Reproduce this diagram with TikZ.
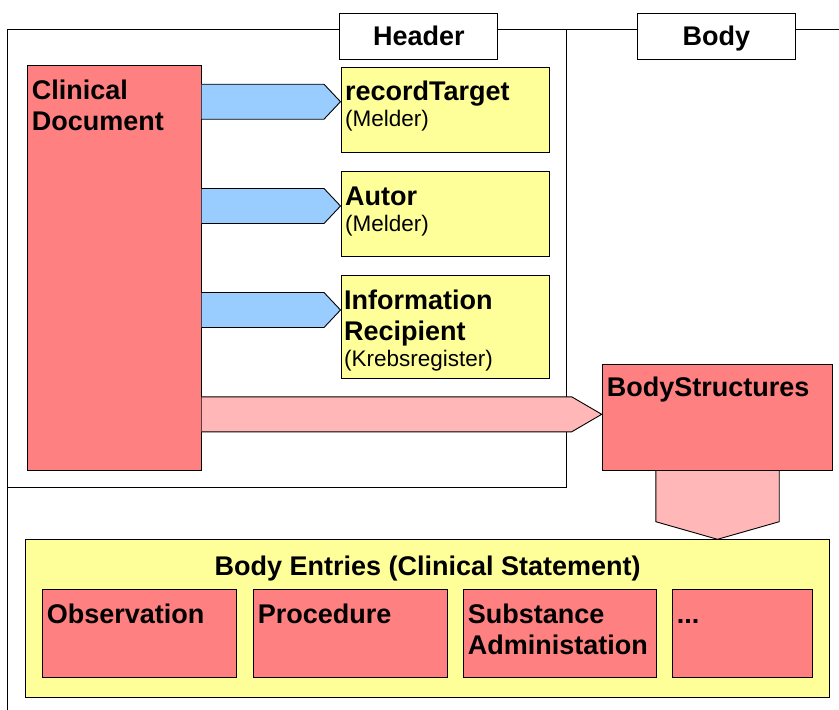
\documentclass[tikz,border=0pt]{standalone}
\usepackage{fontspec}
\setmainfont{Liberation Sans}
\usetikzlibrary{calc}
\definecolor{redc}{HTML}{FF8080}
\definecolor{yelc}{HTML}{FFFF99}
\definecolor{bluc}{HTML}{99CCFF}
\definecolor{pinkc}{HTML}{FFB7B7}
\newcommand\bft{\bfseries\fontsize{27}{31}\selectfont}
\newcommand\smt{\mdseries\fontsize{22.5}{26}\selectfont}
\tikzset{
  box/.style={draw=black, line width=1pt, inner sep=0pt, anchor=north west},
  redbox/.style={box, fill=redc},
  yelbox/.style={box, fill=yelc},
  hdrbox/.style={box, fill=white},
  txt/.style={inner sep=0pt, anchor=base west, text width=#1, align=left, font=\bft},
  txt/.default=220pt,
  frame/.style={draw=black, line width=1.2pt},
  barrow/.style={draw=black, line width=0.9pt, fill=bluc, line join=miter},
  parrow/.style={draw=black, line width=0.9pt, fill=pinkc, line join=miter},
}
\begin{document}
\begin{tikzpicture}[x=1pt,y=-1pt]
\useasboundingbox (0,0) rectangle (839,710);
% header/body tabs
\node[hdrbox, minimum width=158pt, minimum height=46.3pt] (hdr) at (339.3,12.7) {};
\node[font=\bft, inner sep=0pt, anchor=base] (hdrt) at ($(hdr.north)+(0,33)$) {Header};
\node[hdrbox, minimum width=158.3pt, minimum height=46.3pt] (bdy) at (636.7,12.7) {};
\node[font=\bft, inner sep=0pt, anchor=base] (bdyt) at ($(bdy.north)+(0,33)$) {Body};
% frame lines
\coordinate (tl) at (7.3,29.3);
\coordinate (bl) at (7.3,710);
\coordinate (hc) at (566.7,487.7);
\coordinate (tr) at (839,29.3);
\draw[frame] (bl) -- (tl) -- (hdr.west |- tl);
\draw[frame] (hdr.east |- tl) -- (bdy.west |- tl);
\draw[frame] (bdy.east |- tl) -- (tr);
\draw[frame] (hc |- tl) -- (hc) -- (tl |- hc);
% main boxes
\node[redbox, minimum width=173.7pt, minimum height=404.7pt] (cd) at (27,65.3) {};
\node[yelbox, minimum width=208.8pt, minimum height=85.3pt] (rt) at (340.5,66.7) {};
\node[yelbox, minimum width=208.8pt, minimum height=85pt] (au) at (340.5,171) {};
\node[yelbox, minimum width=208.8pt, minimum height=103pt] (ir) at (340.5,275) {};
\node[redbox, minimum width=230.6pt, minimum height=105.7pt] (bs) at (601.7,364.3) {};
\node[yelbox, minimum width=804.3pt, minimum height=157.4pt] (be) at (25,539.3) {};
\node[redbox, minimum width=193.4pt, minimum height=88pt] (ob) at (42.3,589.3) {};
\node[redbox, minimum width=193.4pt, minimum height=88pt] (pr) at (253.3,589.3) {};
\node[redbox, minimum width=192.4pt, minimum height=88pt] (sa) at (463.3,589.3) {};
\node[redbox, minimum width=140pt, minimum height=88pt] (dd) at (672.3,589.3) {};
% texts
\node[txt] (cdt) at ($(cd.north west)+(4.7,34)$) {Clinical\\Document};
\node[txt] (rtt) at ($(rt.north west)+(4.5,34)$) {recordTarget\\[-5pt]{\smt (Melder)}};
\node[txt] (aut) at ($(au.north west)+(4.5,34)$) {Autor\\[-5pt]{\smt (Melder)}};
\node[txt] (irt) at ($(ir.north west)+(3.5,34)$) {Information\\Recipient\\[-5pt]{\smt (Krebsregister)}};
\node[txt] (bst) at ($(bs.north west)+(5,32.4)$) {BodyStructures};
\node[font=\bft, inner sep=0pt, anchor=base] (bet) at ($(be.north)+(0,36)$) {Body Entries (Clinical Statement)};
\node[txt] (obt) at ($(ob.north west)+(4.4,34)$) {Observation};
\node[txt] (prt) at ($(pr.north west)+(4.4,34)$) {Procedure};
\node[txt] (sat) at ($(sa.north west)+(4.4,34)$) {Substance\\Administation};
\node[txt] (ddt) at ($(dd.north west)+(4.4,34)$) {...};
% blue block arrows
\coordinate (t1) at ($(rt.north west)+(0,35)$);
\coordinate (t2) at ($(au.north west)+(0,35)$);
\coordinate (t3) at ($(ir.north west)+(0,35)$);
\foreach \t in {t1,t2,t3}{
  \fill[bluc] ($(cd.east |- \t)+(0,-17.5)$) -- ($(\t)+(-16.5,-17.5)$) -- (\t) -- ($(\t)+(-16.5,17.5)$) -- ($(cd.east |- \t)+(0,17.5)$) -- cycle;
  \draw[barrow, fill=none] ($(cd.east |- \t)+(0,-17.5)$) -- ($(\t)+(-16.5,-17.5)$) -- (\t) -- ($(\t)+(-16.5,17.5)$) -- ($(cd.east |- \t)+(0,17.5)$);
}
% pink arrow to BodyStructures
\coordinate (t4) at ($(bs.north west)+(0,50)$);
\fill[pinkc] ($(cd.east |- t4)+(0,-17.5)$) -- ($(t4)+(-30,-17.5)$) -- (t4) -- ($(t4)+(-30,17.5)$) -- ($(cd.east |- t4)+(0,17.5)$) -- cycle;
\draw[parrow, fill=none] ($(cd.east |- t4)+(0,-17.5)$) -- ($(t4)+(-30,-17.5)$) -- (t4) -- ($(t4)+(-30,17.5)$) -- ($(cd.east |- t4)+(0,17.5)$);
% down arrow to Body Entries
\coordinate (t5) at (bs.south |- be.north);
\fill[pinkc] ($(bs.south)+(-61.7,0)$) -- ($(t5)+(-61.7,-17.6)$) -- (t5) -- ($(t5)+(61.7,-17.6)$) -- ($(bs.south)+(61.7,0)$) -- cycle;
\draw[parrow, fill=none] ($(bs.south)+(-61.7,0)$) -- ($(t5)+(-61.7,-17.6)$) -- (t5) -- ($(t5)+(61.7,-17.6)$) -- ($(bs.south)+(61.7,0)$);
\end{tikzpicture}
\end{document}
